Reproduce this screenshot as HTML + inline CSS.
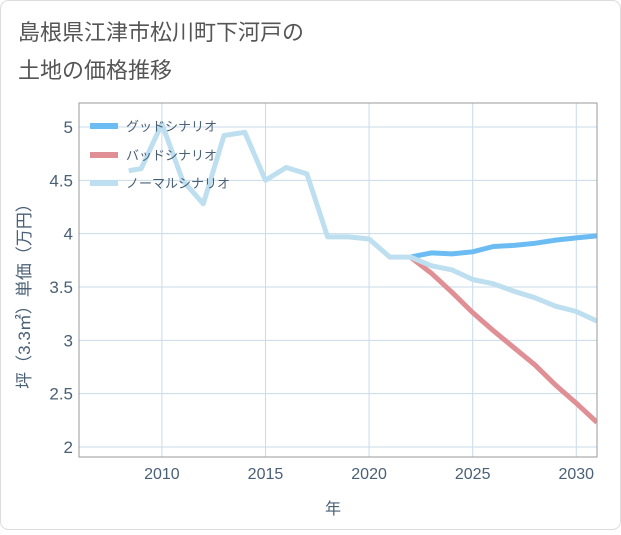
<!DOCTYPE html>
<html><head><meta charset="utf-8"><style>
body{margin:0;background:#fff;}
#wrap{width:621px;height:530px;position:relative;font-family:"Liberation Sans","Noto Sans CJK JP",sans-serif;}
</style></head><body>
<div id="wrap">
<svg id="svg" width="621" height="530" xmlns="http://www.w3.org/2000/svg">
<rect x="0.5" y="0.5" width="620" height="529" rx="8" fill="#fff" stroke="#ddd"/>
<text x="18" y="40" font-size="22" fill="#555">島根県江津市松川町下河戸の</text>
<text x="18" y="78" font-size="22" fill="#555">土地の価格推移</text>
<g id="grid"></g>
<g id="lines"></g>
<g id="axes"></g>
<text transform="translate(30,292) rotate(-90)" text-anchor="middle" font-size="17" fill="#4a6076">坪（3.3㎡）単価（万円）</text>
<text x="333" y="514" text-anchor="middle" font-size="16" fill="#4a6076">年</text>
<g>
<line x1="90" y1="126" x2="118" y2="126" stroke="#6bbcf3" stroke-width="6"/>
<text x="126" y="131" font-size="13" fill="#4a6076">グッドシナリオ</text>
<line x1="90" y1="155" x2="118" y2="155" stroke="#e08f95" stroke-width="6"/>
<text x="126" y="160" font-size="13" fill="#4a6076">バッドシナリオ</text>
<line x1="90" y1="183" x2="118" y2="183" stroke="#bedff0" stroke-width="6"/>
<text x="126" y="188" font-size="13" fill="#4a6076">ノーマルシナリオ</text>
</g>
</svg>
</div>
<script>
const normalYears=[2008.4,2009,2010,2011,2012,2013,2014,2015,2016,2017,2018,2019,2020,2021,2022,2023,2024,2025,2026,2027,2028,2029,2030,2031];
const normalValues=[4.59,4.61,5.03,4.5,4.28,4.92,4.95,4.5,4.62,4.56,3.97,3.97,3.95,3.78,3.78,3.7,3.66,3.57,3.53,3.46,3.4,3.32,3.27,3.18];
const forecastYears=[2022,2023,2024,2025,2026,2027,2028,2029,2030,2031];
const goodValues=[3.78,3.82,3.81,3.83,3.88,3.89,3.91,3.94,3.96,3.98];
const badValues=[3.78,3.63,3.45,3.26,3.09,2.93,2.77,2.58,2.41,2.23];
const yTicks=[2,2.5,3,3.5,4,4.5,5];
const yTickLabels=["2","2.5","3","3.5","4","4.5","5"];
const xTicks=[2010,2015,2020,2025,2030];
const xTickLabels=["2010","2015","2020","2025","2030"];

const L=79,R=597,T=103,B=457;
const xMin=2006.0,xMax=2031.0,yMin=1.906,yMax=5.225;
const X=v=>L+(v-xMin)/(xMax-xMin)*(R-L);
const Y=v=>B-(v-yMin)/(yMax-yMin)*(B-T);
const NS="http://www.w3.org/2000/svg";
function mk(tag,attrs,parent){const e=document.createElementNS(NS,tag);for(const k in attrs)e.setAttribute(k,attrs[k]);parent.appendChild(e);return e;}
const grid=document.getElementById('grid'),lines=document.getElementById('lines'),axes=document.getElementById('axes');
yTicks.forEach((t,i)=>{
  const l=mk('line',{x1:L,x2:R,y1:Y(t),y2:Y(t),stroke:'#c9dbe8','stroke-width':1},grid);
  
  
  const tx=mk('text',{x:L-6,y:Y(t)+6,'text-anchor':'end','font-size':17,fill:'#4a6076'},axes);
  tx.textContent=yTickLabels[i];
  
  
});
xTicks.forEach((t,i)=>{
  const l=mk('line',{x1:X(t),x2:X(t),y1:T,y2:B,stroke:'#c9dbe8','stroke-width':1},grid);
  
  
  const tx=mk('text',{x:X(t),y:B+22,'text-anchor':'middle','font-size':16,fill:'#4a6076'},axes);
  tx.textContent=xTickLabels[i];
  
  
});
const fr=mk('rect',{x:L,y:T,width:R-L,height:B-T,fill:'none',stroke:'#999','stroke-width':1},axes);


const cp=mk('clipPath',{id:'clip'},document.getElementById('svg'));
mk('rect',{x:L,y:T,width:R-L,height:B-T},cp);
function path(xs,ys,color,name){
  const d=xs.map((x,i)=>(i?'L':'M')+X(x).toFixed(1)+','+Y(ys[i]).toFixed(1)).join(' ');
  const p=mk('path',{d:d,fill:'none',stroke:color,'stroke-width':5,'stroke-linejoin':'round','clip-path':'url(#clip)'},lines);
  
  
}
path(forecastYears,badValues,'#e08f95','bad-scenario-line');
path(forecastYears,goodValues,'#6bbcf3','good-scenario-line');
path(normalYears,normalValues,'#bedff0','normal-scenario-line');
</script>
</body></html>
